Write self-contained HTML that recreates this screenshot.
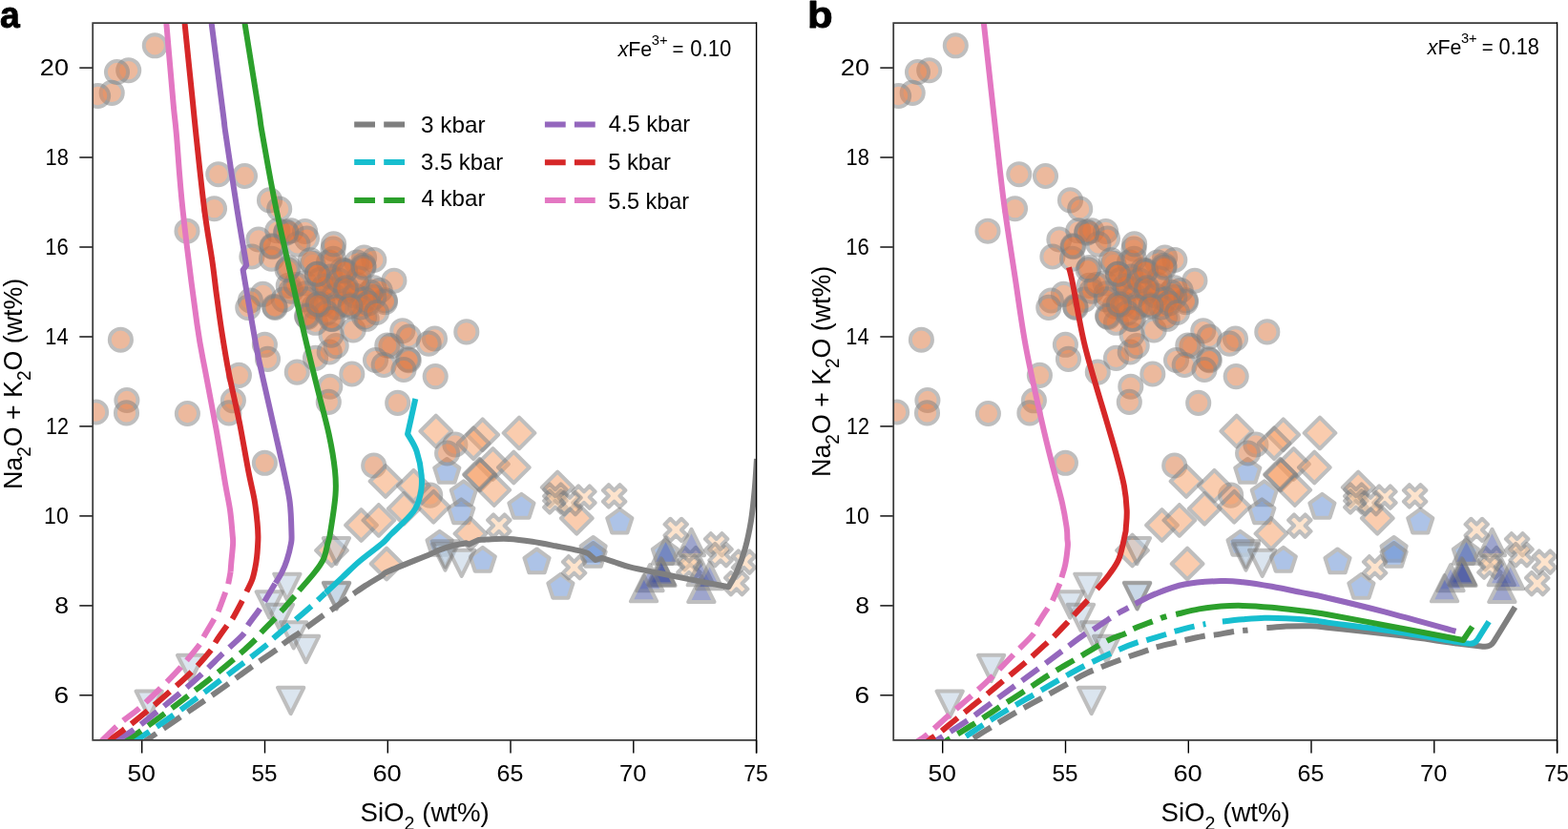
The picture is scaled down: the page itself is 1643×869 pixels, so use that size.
<!DOCTYPE html>
<html lang="en"><head><meta charset="utf-8"><title>Figure</title>
<style>html,body{margin:0;padding:0;background:#fff;}body{width:1643px;height:869px;overflow:hidden;}svg{display:block;}.m>*{opacity:.5}text{font-family:"Liberation Sans",sans-serif;}</style></head><body>
<svg width="1643" height="869" viewBox="0 0 1643 869">
<rect width="1643" height="869" fill="#fff"/>
<g transform="translate(0 0)">
<svg x="97.2" y="24.1" width="695.4" height="751.7" viewBox="97.2 24.1 695.4 751.7" overflow="hidden">
<g stroke="#7f7f7f" stroke-linejoin="round">
<g class="m" fill="#5d89d1" stroke-width="4.1">
<path d="M468.3 481l13.03 9.47l-4.98 15.32l-16.11 0l-4.98 -15.32z"/><path d="M485.8 504.3l13.03 9.47l-4.98 15.32l-16.11 0l-4.98 -15.32z"/><path d="M546.4 517.9l13.03 9.47l-4.98 15.32l-16.11 0l-4.98 -15.32z"/><path d="M483.3 523.3l13.03 9.47l-4.98 15.32l-16.11 0l-4.98 -15.32z"/><path d="M460.6 556.8l13.03 9.47l-4.98 15.32l-16.11 0l-4.98 -15.32z"/><path d="M505.8 573.9l13.03 9.47l-4.98 15.32l-16.11 0l-4.98 -15.32z"/><path d="M562.5 575.5l13.03 9.47l-4.98 15.32l-16.11 0l-4.98 -15.32z"/><path d="M649.3 533.7l13.03 9.47l-4.98 15.32l-16.11 0l-4.98 -15.32z"/><path d="M621.6 563l13.03 9.47l-4.98 15.32l-16.11 0l-4.98 -15.32z"/><path d="M621.6 569l13.03 9.47l-4.98 15.32l-16.11 0l-4.98 -15.32z"/><path d="M696.9 566.1l13.03 9.47l-4.98 15.32l-16.11 0l-4.98 -15.32z"/><path d="M587.4 601.9l13.03 9.47l-4.98 15.32l-16.11 0l-4.98 -15.32z"/>
</g>
<g class="m" fill="#db753e" stroke-width="3.9">
<circle cx="162.3" cy="47.8" r="11.6"/><circle cx="134.7" cy="73.7" r="11.6"/><circle cx="122.5" cy="75.5" r="11.6"/><circle cx="117.2" cy="97.4" r="11.6"/><circle cx="102.6" cy="100.5" r="11.6"/><circle cx="228.8" cy="182.7" r="11.6"/><circle cx="256.5" cy="184.5" r="11.6"/><circle cx="224.5" cy="218.7" r="11.6"/><circle cx="282.5" cy="209.9" r="11.6"/><circle cx="292.7" cy="219" r="11.6"/><circle cx="196" cy="242.2" r="11.6"/><circle cx="270.9" cy="251" r="11.6"/><circle cx="263.9" cy="269" r="11.6"/><circle cx="290.8" cy="241.8" r="11.6"/><circle cx="299.8" cy="243.1" r="11.6"/><circle cx="304.9" cy="241.8" r="11.6"/><circle cx="319.6" cy="242.5" r="11.6"/><circle cx="321.5" cy="250.1" r="11.6"/><circle cx="285.6" cy="258.6" r="11.6"/><circle cx="311.9" cy="255.9" r="11.6"/><circle cx="284.5" cy="271.2" r="11.6"/><circle cx="349" cy="261" r="11.6"/><circle cx="381.6" cy="270" r="11.6"/><circle cx="391.8" cy="272.5" r="11.6"/><circle cx="373.9" cy="275.1" r="11.6"/><circle cx="412.9" cy="294.2" r="11.6"/><circle cx="327.9" cy="276.3" r="11.6"/><circle cx="344.5" cy="275.1" r="11.6"/><circle cx="361.1" cy="284.7" r="11.6"/><circle cx="361.8" cy="303.2" r="11.6"/><circle cx="302.3" cy="299.4" r="11.6"/><circle cx="319" cy="296.8" r="11.6"/><circle cx="343.2" cy="301.9" r="11.6"/><circle cx="391.8" cy="301.9" r="11.6"/><circle cx="403.3" cy="314.7" r="11.6"/><circle cx="398.2" cy="304.5" r="11.6"/><circle cx="275.5" cy="308.3" r="11.6"/><circle cx="262.4" cy="315" r="11.6"/><circle cx="259.8" cy="322.4" r="11.6"/><circle cx="287.6" cy="321.4" r="11.6"/><circle cx="329.2" cy="321.1" r="11.6"/><circle cx="367.5" cy="319.8" r="11.6"/><circle cx="297.2" cy="314.1" r="11.6"/><circle cx="277.4" cy="361.3" r="11.6"/><circle cx="280.5" cy="376.4" r="11.6"/><circle cx="250.4" cy="393.4" r="11.6"/><circle cx="311.3" cy="390.1" r="11.6"/><circle cx="330.5" cy="375.4" r="11.6"/><circle cx="345.2" cy="369" r="11.6"/><circle cx="352.2" cy="362.6" r="11.6"/><circle cx="347.1" cy="351.1" r="11.6"/><circle cx="370.1" cy="346" r="11.6"/><circle cx="322.2" cy="332.3" r="11.6"/><circle cx="333" cy="319.2" r="11.6"/><circle cx="362.4" cy="305.1" r="11.6"/><circle cx="403.5" cy="316.6" r="11.6"/><circle cx="391.8" cy="311.5" r="11.6"/><circle cx="368.8" cy="392" r="11.6"/><circle cx="345.8" cy="405.2" r="11.6"/><circle cx="421.8" cy="346.7" r="11.6"/><circle cx="428.2" cy="353" r="11.6"/><circle cx="410" cy="362.6" r="11.6"/><circle cx="405.8" cy="362" r="11.6"/><circle cx="393.5" cy="377.5" r="11.6"/><circle cx="402.2" cy="382.5" r="11.6"/><circle cx="427.5" cy="376.7" r="11.6"/><circle cx="428.3" cy="377.7" r="11.6"/><circle cx="423" cy="387.5" r="11.6"/><circle cx="304.9" cy="305.1" r="11.6"/><circle cx="320.2" cy="307.7" r="11.6"/><circle cx="343.2" cy="303.8" r="11.6"/><circle cx="388" cy="306.4" r="11.6"/><circle cx="330.5" cy="338.3" r="11.6"/><circle cx="381.6" cy="332" r="11.6"/><circle cx="488.8" cy="347.9" r="11.6"/><circle cx="455.5" cy="355" r="11.6"/><circle cx="449.2" cy="360.1" r="11.6"/><circle cx="456.2" cy="394.6" r="11.6"/><circle cx="244.4" cy="419.8" r="11.6"/><circle cx="344.3" cy="421.4" r="11.6"/><circle cx="416.7" cy="422.4" r="11.6"/><circle cx="277.4" cy="485.3" r="11.6"/><circle cx="391.7" cy="488" r="11.6"/><circle cx="126.4" cy="356.2" r="11.6"/><circle cx="132.9" cy="419.5" r="11.6"/><circle cx="132.5" cy="432.9" r="11.6"/><circle cx="100.6" cy="432" r="11.6"/><circle cx="196.4" cy="433.5" r="11.6"/><circle cx="239.9" cy="432.9" r="11.6"/><circle cx="476.9" cy="466" r="11.6"/><circle cx="468.6" cy="475" r="11.6"/><circle cx="450.7" cy="519.1" r="11.6"/><circle cx="325.4" cy="272.9" r="11.6"/><circle cx="358.6" cy="283.1" r="11.6"/><circle cx="302.4" cy="280.6" r="11.6"/><circle cx="348.4" cy="334.3" r="11.6"/><circle cx="384.2" cy="334.3" r="11.6"/><circle cx="335.6" cy="293.4" r="11.6"/><circle cx="374" cy="298.5" r="11.6"/><circle cx="320.3" cy="313.8" r="11.6"/><circle cx="361.2" cy="318.9" r="11.6"/><circle cx="338.2" cy="318.9" r="11.6"/><circle cx="381.6" cy="313.8" r="11.6"/><circle cx="310" cy="298.5" r="11.6"/><circle cx="332.4" cy="287.2" r="11.6"/><circle cx="349.3" cy="271.4" r="11.6"/><circle cx="380.9" cy="278.2" r="11.6"/><circle cx="346" cy="290" r="11.6"/><circle cx="350" cy="310" r="11.6"/><circle cx="340" cy="300" r="11.6"/><circle cx="355" cy="294" r="11.6"/><circle cx="372" cy="310" r="11.6"/><circle cx="378" cy="322" r="11.6"/><circle cx="352" cy="322" r="11.6"/><circle cx="342" cy="328" r="11.6"/><circle cx="376" cy="292" r="11.6"/><circle cx="386" cy="318" r="11.6"/><circle cx="299.8" cy="244.1" r="11.6"/><circle cx="285.1" cy="257.8" r="11.6"/><circle cx="301.1" cy="282.7" r="11.6"/><circle cx="332.4" cy="287.2" r="11.6"/><circle cx="361.7" cy="283.8" r="11.6"/><circle cx="362.8" cy="301.9" r="11.6"/><circle cx="366.9" cy="321.1" r="11.6"/><circle cx="321.5" cy="331.3" r="11.6"/><circle cx="347.1" cy="334.5" r="11.6"/><circle cx="333.5" cy="318.8" r="11.6"/><circle cx="381" cy="280.2" r="11.6"/><circle cx="349.6" cy="255.9" r="11.6"/><circle cx="288.2" cy="322.4" r="11.6"/><circle cx="394.6" cy="327.5" r="11.6"/>
</g>
<g class="m" fill="#f79b5f" stroke-width="4.1">
<path d="M456.8 435.7l16.3 16.3l-16.3 16.3l-16.3 -16.3z"/><path d="M505.7 439.5l16.3 16.3l-16.3 16.3l-16.3 -16.3z"/><path d="M496.1 448.4l16.3 16.3l-16.3 16.3l-16.3 -16.3z"/><path d="M544 437.6l16.3 16.3l-16.3 16.3l-16.3 -16.3z"/><path d="M516.5 470.2l16.3 16.3l-16.3 16.3l-16.3 -16.3z"/><path d="M538.3 473.7l16.3 16.3l-16.3 16.3l-16.3 -16.3z"/><path d="M502.5 481l16.3 16.3l-16.3 16.3l-16.3 -16.3z"/><path d="M503 481.7l16.3 16.3l-16.3 16.3l-16.3 -16.3z"/><path d="M517.8 497.3l16.3 16.3l-16.3 16.3l-16.3 -16.3z"/><path d="M404 488.2l16.3 16.3l-16.3 16.3l-16.3 -16.3z"/><path d="M433.4 492.9l16.3 16.3l-16.3 16.3l-16.3 -16.3z"/><path d="M423.2 516.9l16.3 16.3l-16.3 16.3l-16.3 -16.3z"/><path d="M454.3 515l16.3 16.3l-16.3 16.3l-16.3 -16.3z"/><path d="M378.5 534.2l16.3 16.3l-16.3 16.3l-16.3 -16.3z"/><path d="M396.8 529.1l16.3 16.3l-16.3 16.3l-16.3 -16.3z"/><path d="M492.9 543.1l16.3 16.3l-16.3 16.3l-16.3 -16.3z"/><path d="M405.1 574.7l16.3 16.3l-16.3 16.3l-16.3 -16.3z"/><path d="M347.5 560.7l16.3 16.3l-16.3 16.3l-16.3 -16.3z"/><path d="M584.2 494.6l16.3 16.3l-16.3 16.3l-16.3 -16.3z"/><path d="M604.3 526.9l16.3 16.3l-16.3 16.3l-16.3 -16.3z"/>
</g>
<g class="m" fill="#fdc99b" stroke-width="4.1">
<path d="M637.8 508.2l5.83 5.83l5.83 -5.83l5.83 5.83l-5.83 5.83l5.83 5.83l-5.83 5.83l-5.83 -5.83l-5.83 5.83l-5.83 -5.83l5.83 -5.83l-5.83 -5.83z"/><path d="M606.1 509.5l5.83 5.83l5.83 -5.83l5.83 5.83l-5.83 5.83l5.83 5.83l-5.83 5.83l-5.83 -5.83l-5.83 5.83l-5.83 -5.83l5.83 -5.83l-5.83 -5.83z"/><path d="M576 507.4l5.83 5.83l5.83 -5.83l5.83 5.83l-5.83 5.83l5.83 5.83l-5.83 5.83l-5.83 -5.83l-5.83 5.83l-5.83 -5.83l5.83 -5.83l-5.83 -5.83z"/><path d="M576 514.2l5.83 5.83l5.83 -5.83l5.83 5.83l-5.83 5.83l5.83 5.83l-5.83 5.83l-5.83 -5.83l-5.83 5.83l-5.83 -5.83l5.83 -5.83l-5.83 -5.83z"/><path d="M591.2 515.9l5.83 5.83l5.83 -5.83l5.83 5.83l-5.83 5.83l5.83 5.83l-5.83 5.83l-5.83 -5.83l-5.83 5.83l-5.83 -5.83l5.83 -5.83l-5.83 -5.83z"/><path d="M702.4 543.8l5.83 5.83l5.83 -5.83l5.83 5.83l-5.83 5.83l5.83 5.83l-5.83 5.83l-5.83 -5.83l-5.83 5.83l-5.83 -5.83l5.83 -5.83l-5.83 -5.83z"/><path d="M744.8 559.1l5.83 5.83l5.83 -5.83l5.83 5.83l-5.83 5.83l5.83 5.83l-5.83 5.83l-5.83 -5.83l-5.83 5.83l-5.83 -5.83l5.83 -5.83l-5.83 -5.83z"/><path d="M749.2 569.9l5.83 5.83l5.83 -5.83l5.83 5.83l-5.83 5.83l5.83 5.83l-5.83 5.83l-5.83 -5.83l-5.83 5.83l-5.83 -5.83l5.83 -5.83l-5.83 -5.83z"/><path d="M773.7 577.4l5.83 5.83l5.83 -5.83l5.83 5.83l-5.83 5.83l5.83 5.83l-5.83 5.83l-5.83 -5.83l-5.83 5.83l-5.83 -5.83l5.83 -5.83l-5.83 -5.83z"/><path d="M765.9 599.9l5.83 5.83l5.83 -5.83l5.83 5.83l-5.83 5.83l5.83 5.83l-5.83 5.83l-5.83 -5.83l-5.83 5.83l-5.83 -5.83l5.83 -5.83l-5.83 -5.83z"/><path d="M717.4 574l5.83 5.83l5.83 -5.83l5.83 5.83l-5.83 5.83l5.83 5.83l-5.83 5.83l-5.83 -5.83l-5.83 5.83l-5.83 -5.83l5.83 -5.83l-5.83 -5.83z"/><path d="M716.1 582.5l5.83 5.83l5.83 -5.83l5.83 5.83l-5.83 5.83l5.83 5.83l-5.83 5.83l-5.83 -5.83l-5.83 5.83l-5.83 -5.83l5.83 -5.83l-5.83 -5.83z"/><path d="M595.8 583.1l5.83 5.83l5.83 -5.83l5.83 5.83l-5.83 5.83l5.83 5.83l-5.83 5.83l-5.83 -5.83l-5.83 5.83l-5.83 -5.83l5.83 -5.83l-5.83 -5.83z"/><path d="M517 539.4l5.83 5.83l5.83 -5.83l5.83 5.83l-5.83 5.83l5.83 5.83l-5.83 5.83l-5.83 -5.83l-5.83 5.83l-5.83 -5.83l5.83 -5.83l-5.83 -5.83z"/>
</g>
<g class="m" fill="#b9cde1" stroke-width="4.1">
<path d="M452.9 567.3l27.2 0l-13.6 27.2z"/><path d="M452.9 570.4l27.2 0l-13.6 27.2z"/><path d="M470.1 576.7l27.2 0l-13.6 27.2z"/><path d="M287.3 601.7l27.2 0l-13.6 27.2z"/><path d="M268.7 620.3l27.2 0l-13.6 27.2z"/><path d="M279.9 633.7l27.2 0l-13.6 27.2z"/><path d="M294.1 652.2l27.2 0l-13.6 27.2z"/><path d="M307 666.9l27.2 0l-13.6 27.2z"/><path d="M339 610.7l27.2 0l-13.6 27.2z"/><path d="M339 611.3l27.2 0l-13.6 27.2z"/><path d="M338.8 564l27.2 0l-13.6 27.2z"/><path d="M186 686.8l27.2 0l-13.6 27.2z"/><path d="M142.6 724.5l27.2 0l-13.6 27.2z"/><path d="M291.1 720.8l27.2 0l-13.6 27.2z"/>
</g>
<g class="m" fill="#3f4e9c" stroke-width="4.1">
<path d="M710.9 582.1l27.2 0l-13.6 -27.2z"/><path d="M684 590.7l27.2 0l-13.6 -27.2z"/><path d="M679.8 613.3l27.2 0l-13.6 -27.2z"/><path d="M680.4 614l27.2 0l-13.6 -27.2z"/><path d="M679 612.4l27.2 0l-13.6 -27.2z"/><path d="M667.4 619.3l27.2 0l-13.6 -27.2z"/><path d="M661 630.3l27.2 0l-13.6 -27.2z"/><path d="M721.3 631l27.2 0l-13.6 -27.2z"/><path d="M720.7 613.3l27.2 0l-13.6 -27.2z"/><path d="M730 617.1l27.2 0l-13.6 -27.2z"/>
</g>
</g>
<g fill="none" stroke-width="6.0" stroke-linejoin="round">
<path d="M364.3 627.3C361.4 629.3 351.4 636.4 347.2 639.3C343 642.2 343.5 641.6 339.3 644.6C335.1 647.6 326.3 654 322.2 657C318.1 660 318.8 659.8 314.6 662.7C310.4 665.6 301.2 671.6 297.2 674.6C293.2 677.6 296 676.6 290.6 680.5C285.2 684.4 273.4 692 265 698C256.6 704 248.4 710.2 240.1 716.2C231.8 722.2 223.6 727.9 215.2 733.7C206.8 739.5 198.1 745.4 189.6 751.2C181.1 757 170.3 764.4 164 768.7C157.7 773 154 775.6 152 777" stroke="#7f7f7f" stroke-dasharray="21.5 9.2" stroke-dashoffset="0"/>
<path d="M370.4 622.4C372.5 621 378 617 382.9 613.9C387.8 610.8 395.9 606 400 603.5C404.1 601 398.8 602.6 407.2 598.8C415.6 595 441.9 584.6 450.7 580.9C459.5 577.2 456 578.1 460 576.6C464 575.1 469.8 573.2 474.6 572C479.4 570.8 486.4 569.8 488.7 569.3L491.1 570.7L501.5 565.9C503.7 565.8 509.6 565.4 514.9 565.2C520.2 565.1 526.1 564.6 533.2 565C540.3 565.4 549.5 566.6 557.6 567.8C565.7 569 573.9 570.7 582 572.3C590.1 573.9 600.6 575.9 606.3 577.2C612 578.5 614.5 579.5 616.1 580L624 587L630.7 584.9C632.7 585.5 638 587.2 642.9 588.8C647.8 590.4 651.7 592.2 660 594.3C668.3 596.4 680.2 598.7 692.8 601.3C705.4 603.9 723.9 607.6 735.7 609.9C747.5 612.2 758.9 614.3 763.5 615.2C764.9 612.5 769.2 605.8 772.1 599.2C775 592.6 778.1 584.5 780.6 575.6C783.1 566.7 785.3 556.1 787 545.7C788.7 535.4 789.7 524.3 790.7 513.5C791.7 502.7 792.6 486.4 793 481" stroke="#7f7f7f"/>
<path d="M340.9 621.8C339.5 623.1 335.2 627.1 332.6 629.5C330.1 631.9 329.5 632.5 325.6 635.9C321.7 639.3 313.3 646.6 309.4 649.9C305.5 653.2 306.4 652.3 302.4 655.6C298.4 658.9 289.4 666.4 285.6 669.8C281.8 673.2 284.8 671.7 279.8 675.8C274.8 679.9 263.7 688.4 255.6 694.6C247.5 700.8 239.5 706.6 231.3 712.8C223.1 719 214.7 725.4 206.4 731.6C198.1 737.8 189.9 743.8 181.5 749.8C173.1 755.8 162.8 762.8 156 767.3C149.2 771.8 143.5 775.4 141 777" stroke="#17becf" stroke-dasharray="21.5 9.2" stroke-dashoffset="10.7"/>
<path d="M435.3 418C433.9 424.2 428.5 448.8 427.1 455C428.7 458 434.2 465.8 436.6 473C439 480.2 441.1 490.8 441.7 498.5C442.3 506.2 441.9 512.6 440.4 519C438.9 525.4 437.9 530 432.8 536.8C427.7 543.6 415.3 554.5 409.8 560C404.3 565.5 405.5 565.3 400 570C394.5 574.7 383.7 582.4 376.8 588.3C369.9 594.2 364.4 599.9 358.5 605.4C352.6 610.9 344.1 618.8 341.2 621.5" stroke="#17becf"/>
<path d="M308.9 624.9C306.5 627.5 298.2 636.9 294.8 640.7C291.4 644.5 292.3 643.9 288.7 647.7C285.1 651.5 276.8 659.6 273.4 663.3C270 667 273 665.2 268.4 669.7C263.8 674.2 253.2 683.9 245.5 690.6C237.8 697.3 229.9 703.7 221.9 710.1C213.9 716.5 205.9 722.6 197.7 728.9C189.5 735.2 181.1 741.6 172.8 747.8C164.5 754 154.8 761.1 147.9 766C141 770.9 134.2 775.2 131.5 777" stroke="#2ca02c" stroke-dasharray="21.5 9.2" stroke-dashoffset="0"/>
<path d="M256.4 24C258.8 39.2 267.9 95.7 271 115C274.1 134.3 271.7 122.5 274.8 140C277.9 157.5 282.7 186.7 289.6 220C296.6 253.3 309.5 309.4 316.5 340C323.5 370.6 327.1 384.7 331.8 403.9C336.5 423.1 341.4 440.1 344.6 455C347.8 469.9 349.9 482.7 351 493.4C352.1 504.1 352.4 507.9 351.5 519C350.6 530.1 347.2 551.5 345.8 560C344.4 568.5 344.4 565.7 343.3 570C342.2 574.3 341.3 580.8 339 585.9C336.7 591 333.6 595 329.3 600.5C325 606 316 616 313.4 619.1" stroke="#2ca02c"/>
<path d="M288.4 611.5C286.5 614.7 279.8 626.1 277.1 630.6C274.4 635.1 274.9 634.5 272 638.7C269.1 642.9 262.2 651.6 259.4 656C256.5 660.4 259.2 660.1 254.9 665C250.6 669.9 240.7 678.2 233.4 685.2C226.1 692.2 218.7 699.8 211.2 706.7C203.7 713.7 196.2 720.3 188.3 726.9C180.4 733.5 172.1 740 164 746.4C155.9 752.8 147 760.2 139.8 765.3C132.6 770.4 124.1 775 121 777" stroke="#9467bd" stroke-dasharray="21.5 9.2" stroke-dashoffset="-0.5"/>
<path d="M221.6 24C223.7 40 231.4 100.7 233.9 120C236.4 139.3 234 123.3 236.4 140C238.8 156.7 244.9 197 248.5 220C252.1 243 256.6 268.3 258.2 278L254.6 283C256.8 295.8 264.6 342 267.9 360C271.2 378 271.3 377.4 274.3 391.1C277.3 404.8 282 425.1 285.8 442.2C289.6 459.2 294.3 479.3 297.3 493.4C300.3 507.5 302.3 515.5 303.7 526.6C305.1 537.7 305.3 552.8 305.5 560C305.7 567.2 305.7 565.5 304.9 570C304.1 574.5 302.2 582 300.6 587.1C299 592.2 297.1 596.5 295.1 600.5C293.1 604.5 289.8 609.4 288.7 611.2" stroke="#9467bd"/>
<path d="M254 629.4C252.3 632.6 246.3 644.1 243.7 648.4C241.1 652.7 241.2 651.3 238.2 655.4C235.2 659.5 228.6 668.8 225.9 673C223.2 677.2 226 675.3 221.9 680.5C217.8 685.7 208.4 696.6 201.1 704C193.8 711.4 185.8 718.2 178.2 724.9C170.6 731.6 163.2 737.9 155.3 744.4C147.5 750.9 138.2 758.5 131.1 763.9C124 769.3 116 774.8 113 777" stroke="#d62728" stroke-dasharray="21.5 9.2" stroke-dashoffset="-0.5"/>
<path d="M193.5 24C194.9 37.9 200 88.1 202 107.4C204 126.7 203.3 121.2 205.3 140C207.3 158.8 211.3 197.7 214.2 220C217 242.3 220.2 258.5 222.4 273.6C224.6 288.7 225.4 298.1 227.1 310.4C228.8 322.7 230.2 333.8 232.3 347.2C234.4 360.6 236.7 375.3 239.8 391.1C242.9 406.9 247.4 425.1 250.8 442.2C254.2 459.2 257.6 479.8 260.2 493.4C262.8 507 265 514.9 266.6 524C268.2 533.1 269 541.7 269.6 548C270.2 554.3 270.3 557.8 270.4 562C270.5 566.2 270.2 569.3 270 573C269.8 576.7 269.6 580.2 269.1 584C268.7 587.8 268.1 591.5 267.3 595.5C266.5 599.5 265.7 603.7 264.2 607.8C262.7 611.9 259.3 618.1 258.3 620.2" stroke="#d62728"/>
<path d="M241.6 599.3C241.2 601.5 239.9 609.1 239 612.7C238.1 616.3 238 616.1 236.2 621C234.4 625.9 230.3 637.2 228.3 642C226.3 646.8 226.6 645.1 224 649.5C221.4 653.9 215.3 664.1 212.8 668.5C210.3 672.9 213 670.7 209.1 675.8C205.2 680.9 196.4 691.7 189.6 699.3C182.8 706.9 175.4 714.3 168.1 721.5C160.8 728.7 152.8 736.4 145.9 742.4C139.1 748.4 133.7 751.4 127 757.2C120.3 763 109.5 773.7 106 777" stroke="#e377c2" stroke-dasharray="21.5 9.2" stroke-dashoffset="8.5"/>
<path d="M174.3 24C175.5 37.9 179.8 88.1 181.5 107.4C183.2 126.7 183.1 121.2 184.8 140C186.5 158.8 187.9 186.7 191.5 220C195.1 253.3 202.5 311.5 206.5 340C210.5 368.5 212.1 372.4 215.5 391.1C218.9 409.9 223.6 433.3 227 452.5C230.4 471.7 233.6 492.6 235.9 506.2C238.2 519.8 239.7 525.3 241 534.3C242.3 543.3 243.1 554 243.6 560C244.1 566 244.3 565 244.1 570C243.9 575 242.7 585.1 242.3 590C241.9 594.9 241.7 597.8 241.6 599.3" stroke="#e377c2"/>
</g>
</svg>
<g stroke="#000" stroke-width="1.4" fill="none">
<path d="M148.7 775.8 v13.7"/>
<path d="M277.5 775.8 v13.7"/>
<path d="M406.3 775.8 v13.7"/>
<path d="M535 775.8 v13.7"/>
<path d="M663.8 775.8 v13.7"/>
<path d="M792.6 775.8 v13.7"/>
<path d="M97.2 728.8 h-13.9"/>
<path d="M97.2 634.9 h-13.9"/>
<path d="M97.2 540.9 h-13.9"/>
<path d="M97.2 446.9 h-13.9"/>
<path d="M97.2 353 h-13.9"/>
<path d="M97.2 259 h-13.9"/>
<path d="M97.2 165 h-13.9"/>
<path d="M97.2 71.1 h-13.9"/>
</g>
<path d="M792.6 24.1 H97.2 V775.8 H792.6" fill="none" stroke="#3a3a3a" stroke-width="1.75" stroke-linejoin="miter"/>
<path d="M792.6 23.3 V789.5" stroke="#000" stroke-width="1.4" fill="none"/>
<g font-family="Liberation Sans, sans-serif" fill="#000" style="font-kerning:none">
<text x="133.5" y="818.9" textLength="29.39" lengthAdjust="spacingAndGlyphs"><tspan font-size="24">50</tspan></text>
<text x="263.52" y="818.9" textLength="26.99" lengthAdjust="spacingAndGlyphs"><tspan font-size="24">55</tspan></text>
<text x="390.43" y="818.9" textLength="30.35" lengthAdjust="spacingAndGlyphs"><tspan font-size="24">60</tspan></text>
<text x="520.52" y="818.9" textLength="27.82" lengthAdjust="spacingAndGlyphs"><tspan font-size="24">65</tspan></text>
<text x="649.07" y="818.9" textLength="28.19" lengthAdjust="spacingAndGlyphs"><tspan font-size="24">70</tspan></text>
<text x="779.22" y="818.9" textLength="25.54" lengthAdjust="spacingAndGlyphs"><tspan font-size="24">75</tspan></text>
<text x="56.47" y="736.52" textLength="15.67" lengthAdjust="spacingAndGlyphs"><tspan font-size="24">6</tspan></text>
<text x="57.24" y="642.56" textLength="14.82" lengthAdjust="spacingAndGlyphs"><tspan font-size="24">8</tspan></text>
<text x="46.04" y="548.59" textLength="25.77" lengthAdjust="spacingAndGlyphs"><tspan font-size="24">10</tspan></text>
<text x="48.06" y="454.63" textLength="23.92" lengthAdjust="spacingAndGlyphs"><tspan font-size="24">12</tspan></text>
<text x="47.34" y="360.67" textLength="24.19" lengthAdjust="spacingAndGlyphs"><tspan font-size="24">14</tspan></text>
<text x="47.32" y="266.71" textLength="24.55" lengthAdjust="spacingAndGlyphs"><tspan font-size="24">16</tspan></text>
<text x="47.53" y="172.74" textLength="24.32" lengthAdjust="spacingAndGlyphs"><tspan font-size="24">18</tspan></text>
<text x="41.84" y="78.78" textLength="30.12" lengthAdjust="spacingAndGlyphs"><tspan font-size="24">20</tspan></text>
<text x="377.55" y="860.6" textLength="135.27" lengthAdjust="spacingAndGlyphs"><tspan font-size="27.6">SiO</tspan><tspan font-size="19.6" dy="9">2</tspan><tspan font-size="27.6" dy="-9"> (wt%)</tspan></text>
<g transform="translate(23.1 402.15) rotate(-90)"><text x="-110.85" y="0" textLength="221.15" lengthAdjust="spacingAndGlyphs"><tspan font-size="27.6">Na</tspan><tspan font-size="19.6" dy="9">2</tspan><tspan font-size="27.6" dy="-9">O + K</tspan><tspan font-size="19.6" dy="9">2</tspan><tspan font-size="27.6" dy="-9">O (wt%)</tspan></text></g>
<text><tspan textLength="35.59" lengthAdjust="spacingAndGlyphs"><tspan x="647.65" y="59" font-size="21.8" font-style="italic">x</tspan><tspan font-size="21.8">Fe</tspan></tspan><tspan textLength="16.79" lengthAdjust="spacingAndGlyphs"><tspan x="682.84" y="47" font-size="15.3">3+</tspan></tspan> <tspan textLength="11.9" lengthAdjust="spacingAndGlyphs"><tspan x="704.61" y="59" font-size="21.8">=</tspan></tspan> <tspan textLength="43.13" lengthAdjust="spacingAndGlyphs"><tspan x="723.23" y="59" font-size="24">0.10</tspan></tspan></text>
</g>
<g font-family="Liberation Sans, sans-serif" fill="#000" style="font-kerning:none">
<path d="M371.2 130.4 h52.8" stroke="#7f7f7f" stroke-width="6" stroke-dasharray="21.8 9.2" fill="none"/>
<text x="441.08" y="139.1" textLength="67.43" lengthAdjust="spacingAndGlyphs"><tspan font-size="24">3 kbar</tspan></text>
<path d="M371.2 170.1 h52.8" stroke="#17becf" stroke-width="6" stroke-dasharray="21.8 9.2" fill="none"/>
<text x="441.09" y="178" textLength="86.1" lengthAdjust="spacingAndGlyphs"><tspan font-size="24">3.5 kbar</tspan></text>
<path d="M371.2 210 h52.8" stroke="#2ca02c" stroke-width="6" stroke-dasharray="21.8 9.2" fill="none"/>
<text x="441.45" y="216.4" textLength="67.05" lengthAdjust="spacingAndGlyphs"><tspan font-size="24">4 kbar</tspan></text>
<path d="M570.9 130.4 h52.8" stroke="#9467bd" stroke-width="6" stroke-dasharray="21.8 9.2" fill="none"/>
<text x="637.76" y="138.2" textLength="85.44" lengthAdjust="spacingAndGlyphs"><tspan font-size="24">4.5 kbar</tspan></text>
<path d="M570.9 170.2 h52.8" stroke="#d62728" stroke-width="6" stroke-dasharray="21.8 9.2" fill="none"/>
<text x="637.35" y="178" textLength="65.64" lengthAdjust="spacingAndGlyphs"><tspan font-size="24">5 kbar</tspan></text>
<path d="M570.9 210 h52.8" stroke="#e377c2" stroke-width="6" stroke-dasharray="21.8 9.2" fill="none"/>
<text x="637.36" y="219" textLength="84.73" lengthAdjust="spacingAndGlyphs"><tspan font-size="24">5.5 kbar</tspan></text>
</g>
</g>
<g transform="translate(839 0)">
<svg x="97.2" y="24.1" width="695.4" height="751.7" viewBox="97.2 24.1 695.4 751.7" overflow="hidden">
<g stroke="#7f7f7f" stroke-linejoin="round">
<g class="m" fill="#5d89d1" stroke-width="4.1">
<path d="M468.3 481l13.03 9.47l-4.98 15.32l-16.11 0l-4.98 -15.32z"/><path d="M485.8 504.3l13.03 9.47l-4.98 15.32l-16.11 0l-4.98 -15.32z"/><path d="M546.4 517.9l13.03 9.47l-4.98 15.32l-16.11 0l-4.98 -15.32z"/><path d="M483.3 523.3l13.03 9.47l-4.98 15.32l-16.11 0l-4.98 -15.32z"/><path d="M460.6 556.8l13.03 9.47l-4.98 15.32l-16.11 0l-4.98 -15.32z"/><path d="M505.8 573.9l13.03 9.47l-4.98 15.32l-16.11 0l-4.98 -15.32z"/><path d="M562.5 575.5l13.03 9.47l-4.98 15.32l-16.11 0l-4.98 -15.32z"/><path d="M649.3 533.7l13.03 9.47l-4.98 15.32l-16.11 0l-4.98 -15.32z"/><path d="M621.6 563l13.03 9.47l-4.98 15.32l-16.11 0l-4.98 -15.32z"/><path d="M621.6 569l13.03 9.47l-4.98 15.32l-16.11 0l-4.98 -15.32z"/><path d="M696.9 566.1l13.03 9.47l-4.98 15.32l-16.11 0l-4.98 -15.32z"/><path d="M587.4 601.9l13.03 9.47l-4.98 15.32l-16.11 0l-4.98 -15.32z"/>
</g>
<g class="m" fill="#db753e" stroke-width="3.9">
<circle cx="162.3" cy="47.8" r="11.6"/><circle cx="134.7" cy="73.7" r="11.6"/><circle cx="122.5" cy="75.5" r="11.6"/><circle cx="117.2" cy="97.4" r="11.6"/><circle cx="102.6" cy="100.5" r="11.6"/><circle cx="228.8" cy="182.7" r="11.6"/><circle cx="256.5" cy="184.5" r="11.6"/><circle cx="224.5" cy="218.7" r="11.6"/><circle cx="282.5" cy="209.9" r="11.6"/><circle cx="292.7" cy="219" r="11.6"/><circle cx="196" cy="242.2" r="11.6"/><circle cx="270.9" cy="251" r="11.6"/><circle cx="263.9" cy="269" r="11.6"/><circle cx="290.8" cy="241.8" r="11.6"/><circle cx="299.8" cy="243.1" r="11.6"/><circle cx="304.9" cy="241.8" r="11.6"/><circle cx="319.6" cy="242.5" r="11.6"/><circle cx="321.5" cy="250.1" r="11.6"/><circle cx="285.6" cy="258.6" r="11.6"/><circle cx="311.9" cy="255.9" r="11.6"/><circle cx="284.5" cy="271.2" r="11.6"/><circle cx="349" cy="261" r="11.6"/><circle cx="381.6" cy="270" r="11.6"/><circle cx="391.8" cy="272.5" r="11.6"/><circle cx="373.9" cy="275.1" r="11.6"/><circle cx="412.9" cy="294.2" r="11.6"/><circle cx="327.9" cy="276.3" r="11.6"/><circle cx="344.5" cy="275.1" r="11.6"/><circle cx="361.1" cy="284.7" r="11.6"/><circle cx="361.8" cy="303.2" r="11.6"/><circle cx="302.3" cy="299.4" r="11.6"/><circle cx="319" cy="296.8" r="11.6"/><circle cx="343.2" cy="301.9" r="11.6"/><circle cx="391.8" cy="301.9" r="11.6"/><circle cx="403.3" cy="314.7" r="11.6"/><circle cx="398.2" cy="304.5" r="11.6"/><circle cx="275.5" cy="308.3" r="11.6"/><circle cx="262.4" cy="315" r="11.6"/><circle cx="259.8" cy="322.4" r="11.6"/><circle cx="287.6" cy="321.4" r="11.6"/><circle cx="329.2" cy="321.1" r="11.6"/><circle cx="367.5" cy="319.8" r="11.6"/><circle cx="297.2" cy="314.1" r="11.6"/><circle cx="277.4" cy="361.3" r="11.6"/><circle cx="280.5" cy="376.4" r="11.6"/><circle cx="250.4" cy="393.4" r="11.6"/><circle cx="311.3" cy="390.1" r="11.6"/><circle cx="330.5" cy="375.4" r="11.6"/><circle cx="345.2" cy="369" r="11.6"/><circle cx="352.2" cy="362.6" r="11.6"/><circle cx="347.1" cy="351.1" r="11.6"/><circle cx="370.1" cy="346" r="11.6"/><circle cx="322.2" cy="332.3" r="11.6"/><circle cx="333" cy="319.2" r="11.6"/><circle cx="362.4" cy="305.1" r="11.6"/><circle cx="403.5" cy="316.6" r="11.6"/><circle cx="391.8" cy="311.5" r="11.6"/><circle cx="368.8" cy="392" r="11.6"/><circle cx="345.8" cy="405.2" r="11.6"/><circle cx="421.8" cy="346.7" r="11.6"/><circle cx="428.2" cy="353" r="11.6"/><circle cx="410" cy="362.6" r="11.6"/><circle cx="405.8" cy="362" r="11.6"/><circle cx="393.5" cy="377.5" r="11.6"/><circle cx="402.2" cy="382.5" r="11.6"/><circle cx="427.5" cy="376.7" r="11.6"/><circle cx="428.3" cy="377.7" r="11.6"/><circle cx="423" cy="387.5" r="11.6"/><circle cx="304.9" cy="305.1" r="11.6"/><circle cx="320.2" cy="307.7" r="11.6"/><circle cx="343.2" cy="303.8" r="11.6"/><circle cx="388" cy="306.4" r="11.6"/><circle cx="330.5" cy="338.3" r="11.6"/><circle cx="381.6" cy="332" r="11.6"/><circle cx="488.8" cy="347.9" r="11.6"/><circle cx="455.5" cy="355" r="11.6"/><circle cx="449.2" cy="360.1" r="11.6"/><circle cx="456.2" cy="394.6" r="11.6"/><circle cx="244.4" cy="419.8" r="11.6"/><circle cx="344.3" cy="421.4" r="11.6"/><circle cx="416.7" cy="422.4" r="11.6"/><circle cx="277.4" cy="485.3" r="11.6"/><circle cx="391.7" cy="488" r="11.6"/><circle cx="126.4" cy="356.2" r="11.6"/><circle cx="132.9" cy="419.5" r="11.6"/><circle cx="132.5" cy="432.9" r="11.6"/><circle cx="100.6" cy="432" r="11.6"/><circle cx="196.4" cy="433.5" r="11.6"/><circle cx="239.9" cy="432.9" r="11.6"/><circle cx="476.9" cy="466" r="11.6"/><circle cx="468.6" cy="475" r="11.6"/><circle cx="450.7" cy="519.1" r="11.6"/><circle cx="325.4" cy="272.9" r="11.6"/><circle cx="358.6" cy="283.1" r="11.6"/><circle cx="302.4" cy="280.6" r="11.6"/><circle cx="348.4" cy="334.3" r="11.6"/><circle cx="384.2" cy="334.3" r="11.6"/><circle cx="335.6" cy="293.4" r="11.6"/><circle cx="374" cy="298.5" r="11.6"/><circle cx="320.3" cy="313.8" r="11.6"/><circle cx="361.2" cy="318.9" r="11.6"/><circle cx="338.2" cy="318.9" r="11.6"/><circle cx="381.6" cy="313.8" r="11.6"/><circle cx="310" cy="298.5" r="11.6"/><circle cx="332.4" cy="287.2" r="11.6"/><circle cx="349.3" cy="271.4" r="11.6"/><circle cx="380.9" cy="278.2" r="11.6"/><circle cx="346" cy="290" r="11.6"/><circle cx="350" cy="310" r="11.6"/><circle cx="340" cy="300" r="11.6"/><circle cx="355" cy="294" r="11.6"/><circle cx="372" cy="310" r="11.6"/><circle cx="378" cy="322" r="11.6"/><circle cx="352" cy="322" r="11.6"/><circle cx="342" cy="328" r="11.6"/><circle cx="376" cy="292" r="11.6"/><circle cx="386" cy="318" r="11.6"/><circle cx="299.8" cy="244.1" r="11.6"/><circle cx="285.1" cy="257.8" r="11.6"/><circle cx="301.1" cy="282.7" r="11.6"/><circle cx="332.4" cy="287.2" r="11.6"/><circle cx="361.7" cy="283.8" r="11.6"/><circle cx="362.8" cy="301.9" r="11.6"/><circle cx="366.9" cy="321.1" r="11.6"/><circle cx="321.5" cy="331.3" r="11.6"/><circle cx="347.1" cy="334.5" r="11.6"/><circle cx="333.5" cy="318.8" r="11.6"/><circle cx="381" cy="280.2" r="11.6"/><circle cx="349.6" cy="255.9" r="11.6"/><circle cx="288.2" cy="322.4" r="11.6"/><circle cx="394.6" cy="327.5" r="11.6"/>
</g>
<g class="m" fill="#f79b5f" stroke-width="4.1">
<path d="M456.8 435.7l16.3 16.3l-16.3 16.3l-16.3 -16.3z"/><path d="M505.7 439.5l16.3 16.3l-16.3 16.3l-16.3 -16.3z"/><path d="M496.1 448.4l16.3 16.3l-16.3 16.3l-16.3 -16.3z"/><path d="M544 437.6l16.3 16.3l-16.3 16.3l-16.3 -16.3z"/><path d="M516.5 470.2l16.3 16.3l-16.3 16.3l-16.3 -16.3z"/><path d="M538.3 473.7l16.3 16.3l-16.3 16.3l-16.3 -16.3z"/><path d="M502.5 481l16.3 16.3l-16.3 16.3l-16.3 -16.3z"/><path d="M503 481.7l16.3 16.3l-16.3 16.3l-16.3 -16.3z"/><path d="M517.8 497.3l16.3 16.3l-16.3 16.3l-16.3 -16.3z"/><path d="M404 488.2l16.3 16.3l-16.3 16.3l-16.3 -16.3z"/><path d="M433.4 492.9l16.3 16.3l-16.3 16.3l-16.3 -16.3z"/><path d="M423.2 516.9l16.3 16.3l-16.3 16.3l-16.3 -16.3z"/><path d="M454.3 515l16.3 16.3l-16.3 16.3l-16.3 -16.3z"/><path d="M378.5 534.2l16.3 16.3l-16.3 16.3l-16.3 -16.3z"/><path d="M396.8 529.1l16.3 16.3l-16.3 16.3l-16.3 -16.3z"/><path d="M492.9 543.1l16.3 16.3l-16.3 16.3l-16.3 -16.3z"/><path d="M405.1 574.7l16.3 16.3l-16.3 16.3l-16.3 -16.3z"/><path d="M347.5 560.7l16.3 16.3l-16.3 16.3l-16.3 -16.3z"/><path d="M584.2 494.6l16.3 16.3l-16.3 16.3l-16.3 -16.3z"/><path d="M604.3 526.9l16.3 16.3l-16.3 16.3l-16.3 -16.3z"/>
</g>
<g class="m" fill="#fdc99b" stroke-width="4.1">
<path d="M637.8 508.2l5.83 5.83l5.83 -5.83l5.83 5.83l-5.83 5.83l5.83 5.83l-5.83 5.83l-5.83 -5.83l-5.83 5.83l-5.83 -5.83l5.83 -5.83l-5.83 -5.83z"/><path d="M606.1 509.5l5.83 5.83l5.83 -5.83l5.83 5.83l-5.83 5.83l5.83 5.83l-5.83 5.83l-5.83 -5.83l-5.83 5.83l-5.83 -5.83l5.83 -5.83l-5.83 -5.83z"/><path d="M576 507.4l5.83 5.83l5.83 -5.83l5.83 5.83l-5.83 5.83l5.83 5.83l-5.83 5.83l-5.83 -5.83l-5.83 5.83l-5.83 -5.83l5.83 -5.83l-5.83 -5.83z"/><path d="M576 514.2l5.83 5.83l5.83 -5.83l5.83 5.83l-5.83 5.83l5.83 5.83l-5.83 5.83l-5.83 -5.83l-5.83 5.83l-5.83 -5.83l5.83 -5.83l-5.83 -5.83z"/><path d="M591.2 515.9l5.83 5.83l5.83 -5.83l5.83 5.83l-5.83 5.83l5.83 5.83l-5.83 5.83l-5.83 -5.83l-5.83 5.83l-5.83 -5.83l5.83 -5.83l-5.83 -5.83z"/><path d="M702.4 543.8l5.83 5.83l5.83 -5.83l5.83 5.83l-5.83 5.83l5.83 5.83l-5.83 5.83l-5.83 -5.83l-5.83 5.83l-5.83 -5.83l5.83 -5.83l-5.83 -5.83z"/><path d="M744.8 559.1l5.83 5.83l5.83 -5.83l5.83 5.83l-5.83 5.83l5.83 5.83l-5.83 5.83l-5.83 -5.83l-5.83 5.83l-5.83 -5.83l5.83 -5.83l-5.83 -5.83z"/><path d="M749.2 569.9l5.83 5.83l5.83 -5.83l5.83 5.83l-5.83 5.83l5.83 5.83l-5.83 5.83l-5.83 -5.83l-5.83 5.83l-5.83 -5.83l5.83 -5.83l-5.83 -5.83z"/><path d="M773.7 577.4l5.83 5.83l5.83 -5.83l5.83 5.83l-5.83 5.83l5.83 5.83l-5.83 5.83l-5.83 -5.83l-5.83 5.83l-5.83 -5.83l5.83 -5.83l-5.83 -5.83z"/><path d="M765.9 599.9l5.83 5.83l5.83 -5.83l5.83 5.83l-5.83 5.83l5.83 5.83l-5.83 5.83l-5.83 -5.83l-5.83 5.83l-5.83 -5.83l5.83 -5.83l-5.83 -5.83z"/><path d="M717.4 574l5.83 5.83l5.83 -5.83l5.83 5.83l-5.83 5.83l5.83 5.83l-5.83 5.83l-5.83 -5.83l-5.83 5.83l-5.83 -5.83l5.83 -5.83l-5.83 -5.83z"/><path d="M716.1 582.5l5.83 5.83l5.83 -5.83l5.83 5.83l-5.83 5.83l5.83 5.83l-5.83 5.83l-5.83 -5.83l-5.83 5.83l-5.83 -5.83l5.83 -5.83l-5.83 -5.83z"/><path d="M595.8 583.1l5.83 5.83l5.83 -5.83l5.83 5.83l-5.83 5.83l5.83 5.83l-5.83 5.83l-5.83 -5.83l-5.83 5.83l-5.83 -5.83l5.83 -5.83l-5.83 -5.83z"/><path d="M517 539.4l5.83 5.83l5.83 -5.83l5.83 5.83l-5.83 5.83l5.83 5.83l-5.83 5.83l-5.83 -5.83l-5.83 5.83l-5.83 -5.83l5.83 -5.83l-5.83 -5.83z"/>
</g>
<g class="m" fill="#b9cde1" stroke-width="4.1">
<path d="M452.9 567.3l27.2 0l-13.6 27.2z"/><path d="M452.9 570.4l27.2 0l-13.6 27.2z"/><path d="M470.1 576.7l27.2 0l-13.6 27.2z"/><path d="M287.3 601.7l27.2 0l-13.6 27.2z"/><path d="M268.7 620.3l27.2 0l-13.6 27.2z"/><path d="M279.9 633.7l27.2 0l-13.6 27.2z"/><path d="M294.1 652.2l27.2 0l-13.6 27.2z"/><path d="M307 666.9l27.2 0l-13.6 27.2z"/><path d="M339 610.7l27.2 0l-13.6 27.2z"/><path d="M339 611.3l27.2 0l-13.6 27.2z"/><path d="M338.8 564l27.2 0l-13.6 27.2z"/><path d="M186 686.8l27.2 0l-13.6 27.2z"/><path d="M142.6 724.5l27.2 0l-13.6 27.2z"/><path d="M291.1 720.8l27.2 0l-13.6 27.2z"/>
</g>
<g class="m" fill="#3f4e9c" stroke-width="4.1">
<path d="M710.9 582.1l27.2 0l-13.6 -27.2z"/><path d="M684 590.7l27.2 0l-13.6 -27.2z"/><path d="M679.8 613.3l27.2 0l-13.6 -27.2z"/><path d="M680.4 614l27.2 0l-13.6 -27.2z"/><path d="M679 612.4l27.2 0l-13.6 -27.2z"/><path d="M667.4 619.3l27.2 0l-13.6 -27.2z"/><path d="M661 630.3l27.2 0l-13.6 -27.2z"/><path d="M721.3 631l27.2 0l-13.6 -27.2z"/><path d="M720.7 613.3l27.2 0l-13.6 -27.2z"/><path d="M730 617.1l27.2 0l-13.6 -27.2z"/>
</g>
</g>
<g fill="none" stroke-width="6.0" stroke-linejoin="round">
<path d="M468.5 660.4C466.1 660.7 460 661.1 454 662C448 662.9 437.8 665 432.7 665.7C427.6 666.5 428.7 665.6 423.6 666.5C418.5 667.4 407.4 670 402.3 671.1C397.2 672.2 398.3 672.1 393.2 673.4C388.1 674.7 376.8 677.3 371.9 678.7C366.9 680.1 368.3 680.1 363.5 681.7C358.7 683.4 353.6 684.7 343 688.6C332.4 692.5 310.5 700.7 300 705.4C289.5 710.1 287.7 712.4 279.8 716.8C271.9 721.2 261.9 726.7 252.9 731.6C243.9 736.5 235 741.2 226 746.4C217 751.6 207.3 757.5 199 762.6C190.7 767.7 179.8 774.6 176 777" stroke="#7f7f7f" stroke-dasharray="21.5 9.2" stroke-dashoffset="16.1"/>
<path d="M488.3 658.1C491.7 657.9 501.6 656.9 508.8 656.6C516 656.3 524.6 656.1 531.6 656.3C538.6 656.5 535.1 656.1 551 657.7C566.9 659.3 604.3 663.3 627.1 666.1C649.9 668.9 673.1 672.6 687.9 674.5C702.7 676.4 711 677.2 715.6 677.7Q722.6 678.5 726.3 672.5C730 666.5 744.8 642.4 748.5 636.4" stroke="#7f7f7f"/>
<path d="M424.4 654C422.4 654.4 417.7 655.3 412.2 656.6C406.7 657.9 396.6 660.6 391.6 662C386.7 663.4 387.4 663.5 382.5 665C377.6 666.5 366.9 669.7 362 671.1C357.1 672.5 357.6 671.8 352.8 673.4C348 675 342.4 676.9 333.1 681C323.9 685.1 307.8 692.7 297.3 698C286.9 703.3 279.3 707.8 270.4 712.8C261.5 717.8 253 723.1 244.1 728.3C235.2 733.5 226 738.5 217.2 743.8C208.3 749.1 199.5 754.4 191 759.9C182.5 765.4 170.2 774.1 166 777" stroke="#17becf" stroke-dasharray="21.5 9.2" stroke-dashoffset="18.5"/>
<path d="M441.9 651.5C445.4 651.1 455.8 649.9 463.2 649.3C470.6 648.7 478.4 648 486 647.8C493.6 647.6 499.9 647.8 508.8 648.3C517.7 648.8 532.2 649.8 539.2 650.5C546.2 651.2 536.4 650.4 551 652.4C565.6 654.4 604.3 659.3 627.1 662.7C649.9 666.1 675.7 670.9 687.9 672.9C700.1 674.9 698.1 674.3 700.2 674.6Q706.1 675.4 709.3 670.3C711.3 667.2 719.1 654.7 721.1 651.6" stroke="#17becf"/>
<path d="M383.3 646C382.3 646.3 379.6 647.1 377.2 648C374.8 648.9 373.5 649.5 368.8 651.3C364.1 653.1 353.8 656.8 349 658.9C344.2 661 344.6 662.1 339.9 664.2C335.2 666.4 329.8 667.2 320.9 671.8C312 676.4 296.6 686 286.5 691.9C276.4 697.8 268.9 702 260.3 707.4C251.7 712.8 243.3 718.6 234.7 724.2C226.1 729.8 217.1 735.5 208.5 741.1C199.9 746.7 192.3 751.9 182.9 757.9C173.5 763.9 157.2 773.8 152 777" stroke="#2ca02c" stroke-dasharray="21.5 9.2" stroke-dashoffset="15.1"/>
<path d="M393.2 644C397.2 643.1 409.6 639.8 417.5 638.4C425.4 637 432.7 636.2 440.3 635.6C447.9 635 454.3 634.7 463.2 634.9C472.1 635.1 483.5 635.9 493.6 636.8C503.7 637.7 514.4 639.1 524 640.3C533.6 641.5 533.8 641 551 644C568.2 647 603.2 653.7 627.1 658.2C651 662.7 683 668.9 694.2 671C695.8 668.6 702.1 659.2 703.7 656.8" stroke="#2ca02c"/>
<path d="M343.4 637C341.5 638 335.4 641.2 332.2 643.1C328.9 645 328.3 645.3 323.9 648.2C319.5 651.1 310.4 657.5 306 660.3C301.6 663.1 303.1 661.1 297.7 664.8C292.3 668.5 281.7 676.5 273.7 682.5C265.7 688.5 257.7 694.7 249.5 700.7C241.3 706.8 232.9 712.8 224.6 718.8C216.3 724.8 208 730.9 199.7 737C191.4 743.1 184.6 748.5 174.8 755.2C165 761.9 146.6 773.4 141 777" stroke="#9467bd" stroke-dasharray="21.5 9.2" stroke-dashoffset="8.7"/>
<path d="M350.6 633C354.2 631.2 363.3 625.8 371.9 622.4C380.5 619 390.9 614.7 402.3 612.5C413.7 610.3 430.2 609.4 440.3 609C450.4 608.6 454.3 609.2 463.2 610.2C472.1 611.2 483.5 613 493.6 614.8C503.7 616.6 514.4 618.9 524 620.9C533.6 622.9 536.4 623.1 551 626.5C565.6 629.9 589.3 635.5 611.9 641.4C634.5 647.3 674 658.4 686.4 661.8" stroke="#9467bd"/>
<path d="M300.9 629C298.4 631.7 289.6 641.3 286.2 645C282.8 648.7 283.9 647.7 280.4 651.4C276.9 655.1 268.6 663.9 265.1 667.4C261.6 670.9 264.3 668.1 259.6 672.4C254.9 676.7 244.4 686.6 236.7 693.3C229 700 221 706.3 213.2 712.8C205.3 719.3 197.6 725.8 189.6 732.3C181.6 738.8 173.5 745.3 165.4 751.8C157.3 758.3 147.1 767.1 141.2 771.3C135.3 775.5 131.9 776 130 777" stroke="#d62728" stroke-dasharray="21.5 9.2" stroke-dashoffset="-0.2"/>
<path d="M281 280.2C281.7 283.2 282.4 284.2 285.2 298C288 311.8 292.1 339.3 297.9 363C303.7 386.7 314.6 421.1 320.1 440C325.6 458.9 327.6 464.9 330.7 476.5C333.8 488.1 337.1 499.6 338.9 509.4C340.7 519.1 341.4 527.7 341.7 535C342 542.3 341.1 549 340.8 553.2C340.5 557.4 341.1 554.6 339.9 560C338.7 565.4 336.3 578.6 333.5 585.6C330.7 592.6 327 596.9 323.2 602.2C319.4 607.5 312.6 615 310.5 617.5" stroke="#d62728"/>
<path d="M271.5 611.8C270.2 614.8 265.8 625.6 263.8 629.7C261.8 633.9 262.1 632.3 259.3 636.7C256.5 641.1 249.8 651.2 247.2 655.9C244.6 660.6 247.5 660 243.5 665C239.5 670 230.3 678.7 223.3 685.9C216.3 693.1 209 700.9 201.7 708.1C194.4 715.3 187.1 722.1 179.5 728.9C171.9 735.7 163.7 742.3 156 749.1C148.3 755.9 138.8 764.8 133.1 769.5C127.4 774.2 123.8 776.2 122 777.5" stroke="#e377c2" stroke-dasharray="21.5 9.2" stroke-dashoffset="2"/>
<path d="M191.9 24.6C194.2 45.8 202.4 120.6 205.9 152C209.4 183.4 209.9 190 213 213C216.1 236 220.7 265 224.5 290C228.3 315 231.2 338 235.8 363C240.4 388 247.6 419.6 252.2 440C256.8 460.4 259.5 471 263.2 485.6C266.9 500.2 271.5 516.3 274.1 527.6C276.7 538.9 277.8 547 278.7 553.2C279.6 559.4 279.2 561.7 279.4 565C279.6 568.3 280.2 568.3 279.8 572.8C279.4 577.3 278.3 586.6 277.2 592C276.1 597.4 274 603.2 273.4 605.4" stroke="#e377c2"/>
</g>
</svg>
<g stroke="#000" stroke-width="1.4" fill="none">
<path d="M148.7 775.8 v13.7"/>
<path d="M277.5 775.8 v13.7"/>
<path d="M406.3 775.8 v13.7"/>
<path d="M535 775.8 v13.7"/>
<path d="M663.8 775.8 v13.7"/>
<path d="M792.6 775.8 v13.7"/>
<path d="M97.2 728.8 h-13.9"/>
<path d="M97.2 634.9 h-13.9"/>
<path d="M97.2 540.9 h-13.9"/>
<path d="M97.2 446.9 h-13.9"/>
<path d="M97.2 353 h-13.9"/>
<path d="M97.2 259 h-13.9"/>
<path d="M97.2 165 h-13.9"/>
<path d="M97.2 71.1 h-13.9"/>
</g>
<path d="M792.6 24.1 H97.2 V775.8 H792.6" fill="none" stroke="#3a3a3a" stroke-width="1.75" stroke-linejoin="miter"/>
<path d="M792.6 23.3 V789.5" stroke="#000" stroke-width="1.4" fill="none"/>
<g font-family="Liberation Sans, sans-serif" fill="#000" style="font-kerning:none">
<text x="133.5" y="818.9" textLength="29.39" lengthAdjust="spacingAndGlyphs"><tspan font-size="24">50</tspan></text>
<text x="263.52" y="818.9" textLength="26.99" lengthAdjust="spacingAndGlyphs"><tspan font-size="24">55</tspan></text>
<text x="390.43" y="818.9" textLength="30.35" lengthAdjust="spacingAndGlyphs"><tspan font-size="24">60</tspan></text>
<text x="520.52" y="818.9" textLength="27.82" lengthAdjust="spacingAndGlyphs"><tspan font-size="24">65</tspan></text>
<text x="649.07" y="818.9" textLength="28.19" lengthAdjust="spacingAndGlyphs"><tspan font-size="24">70</tspan></text>
<text x="779.22" y="818.9" textLength="25.54" lengthAdjust="spacingAndGlyphs"><tspan font-size="24">75</tspan></text>
<text x="56.47" y="736.52" textLength="15.67" lengthAdjust="spacingAndGlyphs"><tspan font-size="24">6</tspan></text>
<text x="57.24" y="642.56" textLength="14.82" lengthAdjust="spacingAndGlyphs"><tspan font-size="24">8</tspan></text>
<text x="46.04" y="548.59" textLength="25.77" lengthAdjust="spacingAndGlyphs"><tspan font-size="24">10</tspan></text>
<text x="48.06" y="454.63" textLength="23.92" lengthAdjust="spacingAndGlyphs"><tspan font-size="24">12</tspan></text>
<text x="47.34" y="360.67" textLength="24.19" lengthAdjust="spacingAndGlyphs"><tspan font-size="24">14</tspan></text>
<text x="47.32" y="266.71" textLength="24.55" lengthAdjust="spacingAndGlyphs"><tspan font-size="24">16</tspan></text>
<text x="47.53" y="172.74" textLength="24.32" lengthAdjust="spacingAndGlyphs"><tspan font-size="24">18</tspan></text>
<text x="41.84" y="78.78" textLength="30.12" lengthAdjust="spacingAndGlyphs"><tspan font-size="24">20</tspan></text>
<text x="377.55" y="860.6" textLength="135.27" lengthAdjust="spacingAndGlyphs"><tspan font-size="27.6">SiO</tspan><tspan font-size="19.6" dy="9">2</tspan><tspan font-size="27.6" dy="-9"> (wt%)</tspan></text>
<g transform="translate(31.1 389.05) rotate(-90)"><text x="-110.85" y="0" textLength="221.15" lengthAdjust="spacingAndGlyphs"><tspan font-size="27.6">Na</tspan><tspan font-size="19.6" dy="9">2</tspan><tspan font-size="27.6" dy="-9">O + K</tspan><tspan font-size="19.6" dy="9">2</tspan><tspan font-size="27.6" dy="-9">O (wt%)</tspan></text></g>
<text><tspan textLength="35.59" lengthAdjust="spacingAndGlyphs"><tspan x="656.75" y="56.9" font-size="21.8" font-style="italic">x</tspan><tspan font-size="21.8">Fe</tspan></tspan><tspan textLength="16.79" lengthAdjust="spacingAndGlyphs"><tspan x="691.94" y="44.9" font-size="15.3">3+</tspan></tspan> <tspan textLength="11.9" lengthAdjust="spacingAndGlyphs"><tspan x="713.71" y="56.9" font-size="21.8">=</tspan></tspan> <tspan textLength="42.4" lengthAdjust="spacingAndGlyphs"><tspan x="731.55" y="56.9" font-size="24">0.18</tspan></tspan></text>
</g>
</g>
<g font-family="Liberation Sans, sans-serif" fill="#000" stroke="#000" stroke-width="0.9" stroke-linejoin="round" style="font-kerning:none">
<text x="0.01" y="29" textLength="20.76" lengthAdjust="spacingAndGlyphs"><tspan font-size="39.6" font-weight="bold">a</tspan></text>
<text x="846.02" y="29" textLength="26.67" lengthAdjust="spacingAndGlyphs"><tspan font-size="39.6" font-weight="bold">b</tspan></text>
</g>
</svg></body></html>
